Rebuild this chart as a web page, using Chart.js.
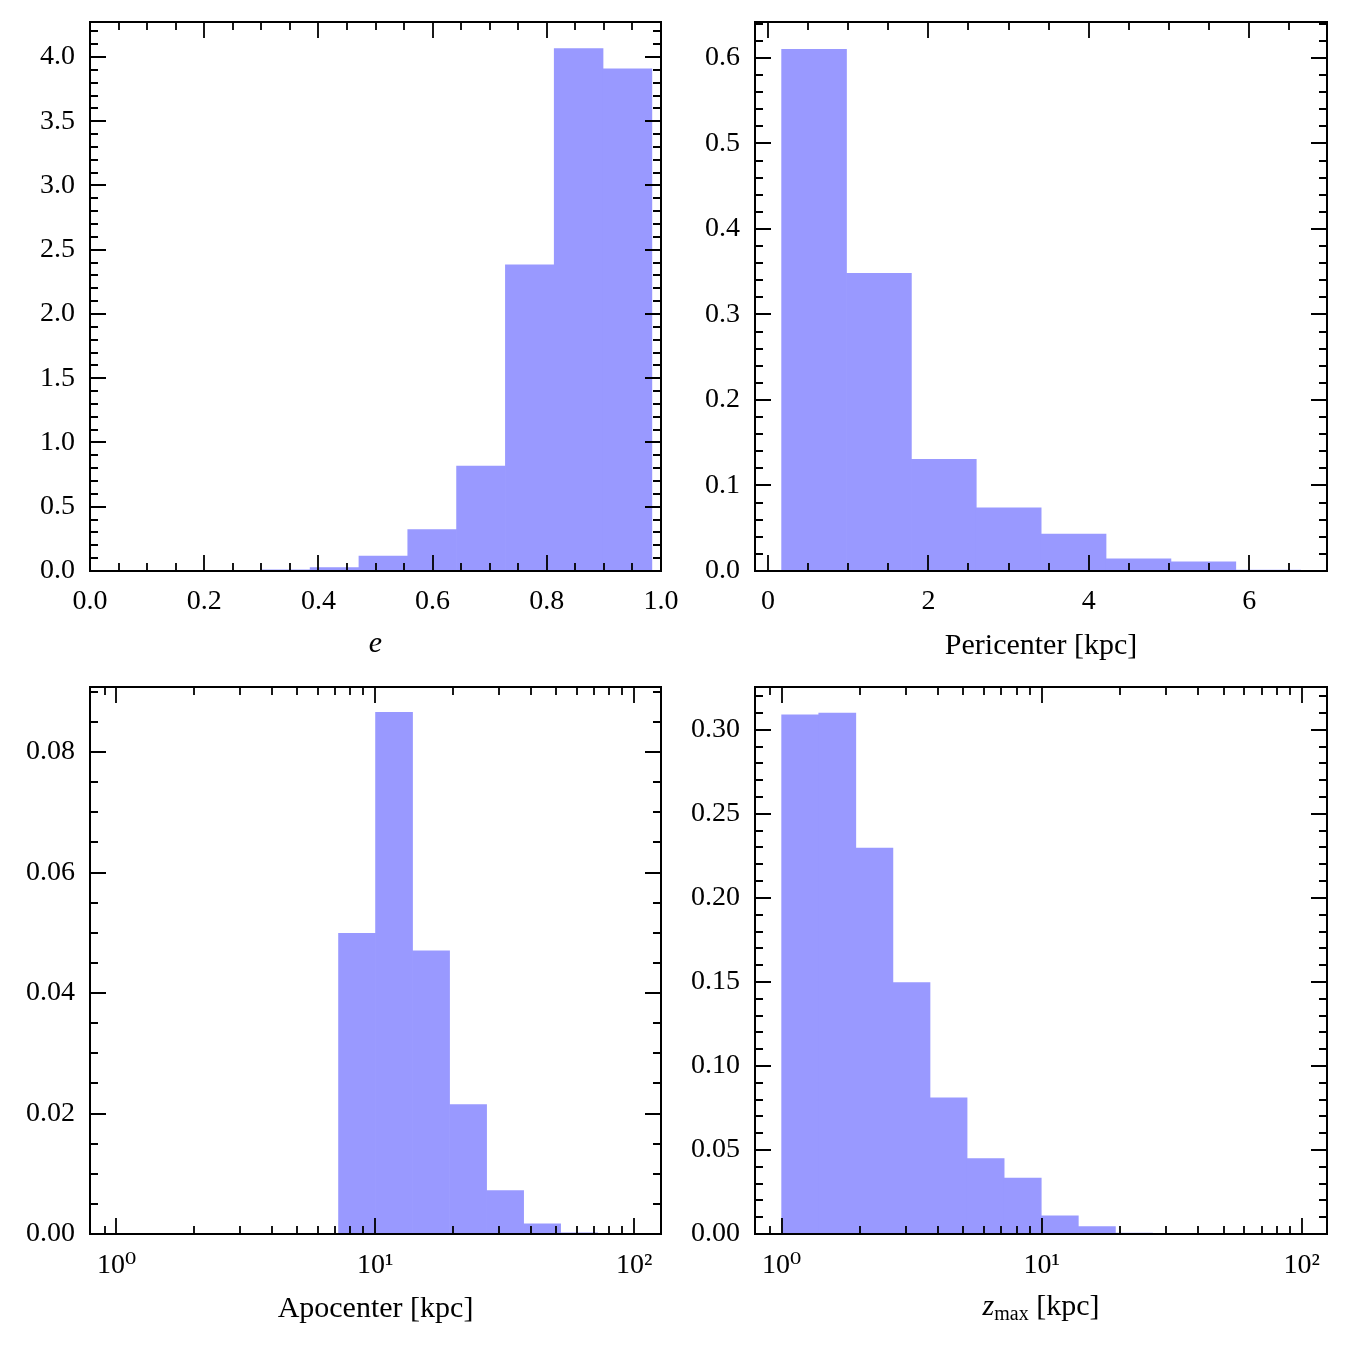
<!DOCTYPE html>
<html>
<head>
<meta charset="utf-8">
<title>Orbital parameters</title>
<script src="https://cdn.jsdelivr.net/npm/chart.js@4.4.1/dist/chart.umd.min.js"></script>
<style>
  html, body { margin: 0; padding: 0; background: #fff; }
  #fig { position: relative; width: 1350px; height: 1350px; overflow: hidden; }
  #fig canvas { position: absolute; }
</style>
</head>
<body>
<div id="fig">
  <canvas id="h-ecc"  width="700" height="675" style="left:0;top:0"></canvas>
  <canvas id="h-peri" width="675" height="675" style="left:675px;top:0"></canvas>
  <canvas id="h-apo"  width="700" height="685" style="left:0;top:665px"></canvas>
  <canvas id="h-zmax" width="675" height="685" style="left:675px;top:665px"></canvas>
</div>
<script>
/* ── Data (bin edges + normalised density) ── */
const eccEdges    = [0.300, 0.3855, 0.471, 0.5565, 0.642, 0.7275, 0.813, 0.8985, 0.984];
const eccDensity  = [0.010, 0.027, 0.116, 0.322, 0.817, 2.383, 4.066, 3.907];

const periEdges   = [0.170, 0.979, 1.788, 2.597, 3.406, 4.215, 5.024, 5.833, 6.642];
const periDensity = [0.610, 0.348, 0.1305, 0.0739, 0.0433, 0.0143, 0.0108, 0.0010];

const apoEdges    = [7.21, 10.02, 13.93, 19.36, 26.92, 37.41, 52.00, 72.28];
const apoDensity  = [0.0499, 0.0866, 0.0470, 0.0215, 0.0072, 0.0017, 0.0002];

const zmaxEdges   = [1.000, 1.389, 1.929, 2.679, 3.720, 5.164, 7.173, 9.959, 13.83, 19.21, 26.67];
const zmaxDensity = [0.309, 0.310, 0.2296, 0.1496, 0.0810, 0.0449, 0.0333, 0.0108, 0.0044, 0.0005];

/* ── Tick values / labels ── */
const eccXTicks  = [0, 0.2, 0.4, 0.6, 0.8, 1.0];
const eccXLabels = ['0.0', '0.2', '0.4', '0.6', '0.8', '1.0'];
const eccYTicks  = [0, 0.5, 1.0, 1.5, 2.0, 2.5, 3.0, 3.5, 4.0];
const eccYLabels = ['0.0', '0.5', '1.0', '1.5', '2.0', '2.5', '3.0', '3.5', '4.0'];

const periXTicks  = [0, 2, 4, 6];
const periXLabels = ['0', '2', '4', '6'];
const periYTicks  = [0, 0.1, 0.2, 0.3, 0.4, 0.5, 0.6];
const periYLabels = ['0.0', '0.1', '0.2', '0.3', '0.4', '0.5', '0.6'];

const logXTicks  = [1, 10, 100];
const logXLabels = ['10⁰', '10¹', '10²'];
const logXMinor  = [0.9, 2, 3, 4, 5, 6, 7, 8, 9, 20, 30, 40, 50, 60, 70, 80, 90];

const apoYTicks  = [0, 0.02, 0.04, 0.06, 0.08];
const apoYLabels = ['0.00', '0.02', '0.04', '0.06', '0.08'];

const zmaxYTicks  = [0, 0.05, 0.10, 0.15, 0.20, 0.25, 0.30];
const zmaxYLabels = ['0.00', '0.05', '0.10', '0.15', '0.20', '0.25', '0.30'];

/* ── Style ── */
const FILL  = '#9999ff';
const SERIF = '"Liberation Serif", "DejaVu Serif", serif';
const FS    = 28;   // tick labels
const TS    = 30;   // axis titles

Chart.defaults.font.family = SERIF;
Chart.defaults.font.size   = FS;
Chart.defaults.color       = '#000';

function steps(from, to, step) {
  const out = [];
  for (let v = from; v <= to + 1e-9; v += step) out.push(+v.toFixed(6));
  return out;
}

/* axis titles: list of [text, italic, size, dy] runs */
function drawRuns(ctx, runs, cx, baseY) {
  let w = 0;
  runs.forEach(r => {
    ctx.font = (r[1] ? 'italic ' : '') + r[2] + 'px ' + SERIF;
    r.w = ctx.measureText(r[0]).width;
    w += r.w;
  });
  let x = cx - w / 2;
  ctx.textAlign = 'left';
  ctx.textBaseline = 'alphabetic';
  runs.forEach(r => {
    ctx.font = (r[1] ? 'italic ' : '') + r[2] + 'px ' + SERIF;
    ctx.fillText(r[0], x, baseY + r[3]);
    x += r.w;
  });
}

/* inward ticks on all four sides + frame + x title */
function framePlugin(cfg) {
  return {
    id: 'frameTicks',
    afterDatasetsDraw(chart) {
      const { ctx, chartArea: a, scales: { x, y } } = chart;
      ctx.save();
      ctx.strokeStyle = '#000';
      ctx.lineWidth = 1.8;
      ctx.beginPath();
      const xt = (v, len) => {
        const px = Math.round(x.getPixelForValue(v));
        if (px < a.left + 1 || px > a.right - 1) return;
        ctx.moveTo(px, a.bottom); ctx.lineTo(px, a.bottom - len);
        ctx.moveTo(px, a.top);    ctx.lineTo(px, a.top + len);
      };
      const yt = (v, len) => {
        const py = Math.round(y.getPixelForValue(v));
        if (py < a.top + 1 || py > a.bottom - 1) return;
        ctx.moveTo(a.left, py);  ctx.lineTo(a.left + len, py);
        ctx.moveTo(a.right, py); ctx.lineTo(a.right - len, py);
      };
      cfg.xTicks.forEach(v => xt(v, 16));
      cfg.xMinor.forEach(v => xt(v, 8));
      cfg.yTicks.forEach(v => yt(v, 16));
      cfg.yMinor.forEach(v => yt(v, 8));
      ctx.stroke();
      ctx.lineWidth = 2;
      ctx.strokeRect(a.left, a.top, a.right - a.left, a.bottom - a.top);
      ctx.fillStyle = '#000';
      drawRuns(ctx, cfg.title, (a.left + a.right) / 2, cfg.titleY);
      ctx.restore();
    }
  };
}

function histPanel(id, cfg) {
  const el = document.getElementById(id);
  const W = el.width, H = el.height, a = cfg.area;
  const log = cfg.xType === 'logarithmic';
  const pts = cfg.density.map((d, i) => ({
    x: log ? Math.sqrt(cfg.edges[i] * cfg.edges[i + 1]) : (cfg.edges[i] + cfg.edges[i + 1]) / 2,
    y: d,
  }));
  return new Chart(el, {
    type: 'bar',
    data: {
      datasets: [{
        data: pts, backgroundColor: FILL, borderWidth: 0,
        barPercentage: 1, categoryPercentage: 1,
      }],
    },
    options: {
      responsive: false, animation: false, devicePixelRatio: 1,
      layout: { padding: { left: 0, top: a.top, right: W - a.right, bottom: 0 } },
      plugins: { legend: { display: false }, tooltip: { enabled: false } },
      scales: {
        x: {
          type: cfg.xType, min: cfg.xMin, max: cfg.xMax, offset: false,
          grid: { display: false, drawTicks: false }, border: { display: false },
          afterBuildTicks: s => { s.ticks = cfg.xTicks.map(v => ({ value: v })); },
          afterFit: s => { s.height = H - a.bottom; s.paddingLeft = 0; s.paddingRight = 0; },
          ticks: { callback: (v, i) => cfg.xLabels[i], padding: cfg.xPad, autoSkip: false, maxRotation: 0 },
        },
        y: {
          type: 'linear', min: 0, max: cfg.yMax,
          grid: { display: false, drawTicks: false }, border: { display: false },
          afterBuildTicks: s => { s.ticks = cfg.yTicks.map(v => ({ value: v })); },
          afterFit: s => { s.width = a.left; s.paddingTop = 0; s.paddingBottom = 0; },
          ticks: { callback: (v, i) => cfg.yLabels[i], padding: 15, autoSkip: false },
        },
      },
    },
    plugins: [framePlugin(cfg)],
  });
}

histPanel('h-ecc', {
  edges: eccEdges, density: eccDensity,
  xType: 'linear', xMin: 0, xMax: 1, yMax: 4.272,
  xTicks: eccXTicks, xLabels: eccXLabels, xMinor: steps(0, 1, 0.05),
  yTicks: eccYTicks, yLabels: eccYLabels, yMinor: steps(0, 4.2, 0.1),
  area: { left: 90, top: 22, right: 661, bottom: 571 }, xPad: 14,
  title: [['e', true, TS, 0]], titleY: 652,
});

histPanel('h-peri', {
  edges: periEdges, density: periDensity,
  xType: 'linear', xMin: -0.162, xMax: 6.97, yMax: 0.642,
  xTicks: periXTicks, xLabels: periXLabels, xMinor: steps(0, 6.5, 0.5),
  yTicks: periYTicks, yLabels: periYLabels, yMinor: steps(0, 0.64, 0.02),
  area: { left: 80, top: 22, right: 652, bottom: 571 }, xPad: 14,
  title: [['Pericenter [kpc]', false, TS, 0]], titleY: 654,
});

histPanel('h-apo', {
  edges: apoEdges, density: apoDensity,
  xType: 'logarithmic', xMin: 0.79, xMax: 127, yMax: 0.0908,
  xTicks: logXTicks, xLabels: logXLabels, xMinor: logXMinor,
  yTicks: apoYTicks, yLabels: apoYLabels, yMinor: steps(0, 0.09, 0.005),
  area: { left: 90, top: 22, right: 661, bottom: 569 }, xPad: 15,
  title: [['Apocenter [kpc]', false, TS, 0]], titleY: 652,
});

histPanel('h-zmax', {
  edges: zmaxEdges, density: zmaxDensity,
  xType: 'logarithmic', xMin: 0.79, xMax: 125, yMax: 0.3255,
  xTicks: logXTicks, xLabels: logXLabels, xMinor: logXMinor,
  yTicks: zmaxYTicks, yLabels: zmaxYLabels, yMinor: steps(0, 0.32, 0.01),
  area: { left: 80, top: 22, right: 652, bottom: 569 }, xPad: 15,
  title: [['z', true, TS, 0], ['max', false, 20, 5], [' [kpc]', false, TS, 0]], titleY: 650,
});
</script>
</body>
</html>
